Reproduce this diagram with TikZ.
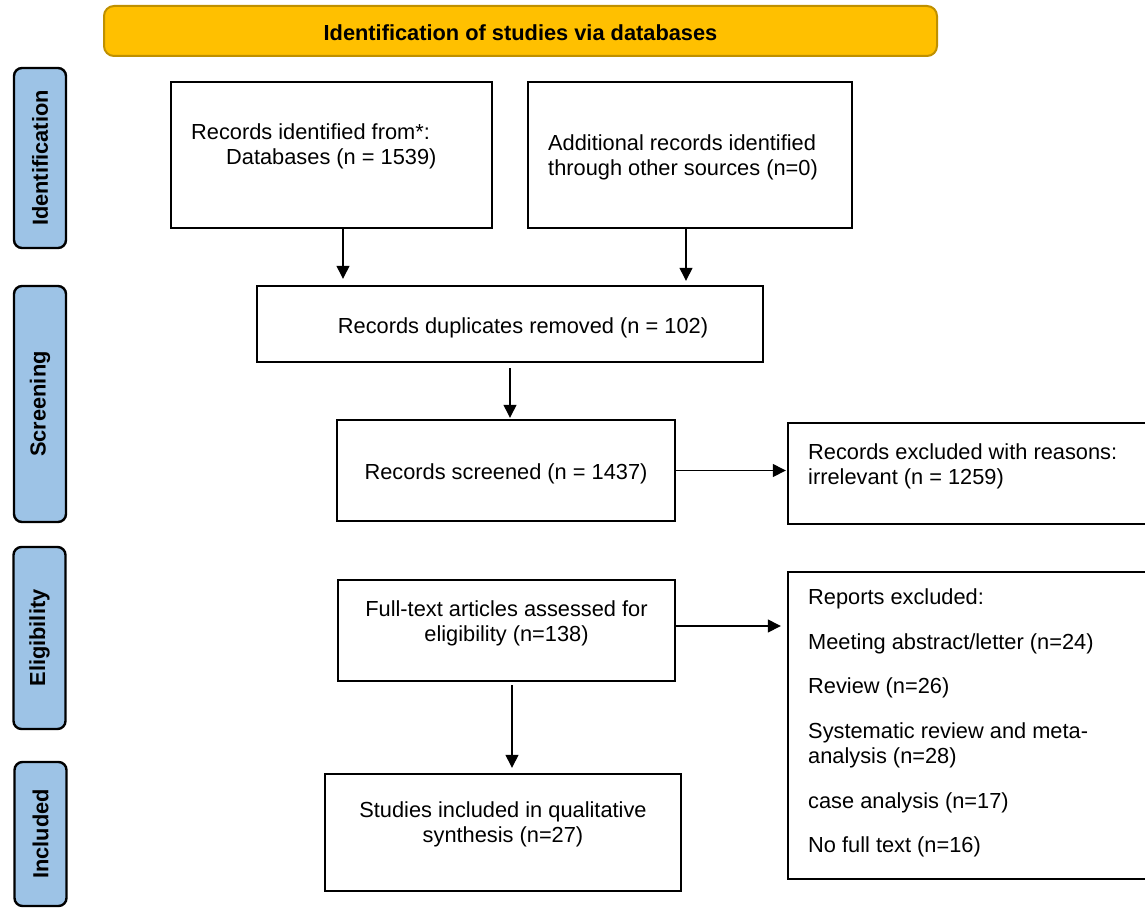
\documentclass[tikz,border=0pt]{standalone}
\usepackage{fontspec}
\setmainfont{Liberation Sans}
\usetikzlibrary{arrows.meta}
\definecolor{bannerfill}{HTML}{FFC000}
\definecolor{bannerdraw}{HTML}{BF9000}
\definecolor{stagefill}{HTML}{9DC3E6}
\begin{document}
\begin{tikzpicture}[x=1pt,y=-1pt,
  box/.style={draw=black, line width=2.4pt, inner sep=0pt, fill=white},
  stage/.style={draw=black, line width=2.4pt, fill=stagefill, rounded corners=8pt,
    rotate=90, inner sep=0pt, minimum height=52pt, font=\fontsize{21.8}{25}\selectfont\bfseries},
  banner/.style={draw=bannerdraw, line width=2pt, fill=bannerfill, rounded corners=10pt,
    inner sep=0pt, font=\fontsize{21.8}{25}\selectfont\bfseries},
  txt/.style={inner sep=0pt, font=\fontsize{21.8}{25}\selectfont},
  arr/.style={line width=1.3pt, -{Triangle[length=13pt,width=13pt]}}
]
\useasboundingbox (0,0) rectangle (1145,907);
\clip (0,0) rectangle (1145,907);

% banner
\node[banner, minimum width=833pt, minimum height=50pt, text height=19pt, text depth=0pt] (ban) at (520.5,31) {Identification of studies via databases};

% stage labels
\node[stage, minimum width=180pt] (s1) at (40,158) {Identification};
\node[stage, minimum width=236pt] (s2) at (40,404) {Screening};
\node[stage, minimum width=182pt] (s3) at (39.5,638) {Eligibility};
\node[stage, minimum width=144pt] (s4) at (40.5,834) {Included};

% boxes
\node[box, minimum width=321pt, minimum height=146pt] (id1) at (331.5,155) {};
\node[box, minimum width=324pt, minimum height=146pt] (id2) at (690,155) {};
\node[box, minimum width=506pt, minimum height=76pt] (dup) at (510,324) {};
\node[box, minimum width=338pt, minimum height=101pt] (scr) at (506,470.5) {};
\node[box, minimum width=372pt, minimum height=101pt] (exc1) at (974,473.5) {};
\node[box, minimum width=337pt, minimum height=101pt] (ful) at (506.5,630.5) {};
\node[box, minimum width=372pt, minimum height=307pt] (exc2) at (974,725.5) {};
\node[box, minimum width=356pt, minimum height=117pt] (inc) at (503,832.5) {};

% texts
\node[txt, anchor=west, align=left] (tid1) at (191,146)
  {Records identified from*:\\\hspace*{35pt}Databases (n = 1539)};
\node[txt, anchor=west, align=left] (tid2) at (548,157)
  {Additional records identified\\through other sources (n=0)};
\node[txt] (tdup) at (523,327.5) {Records duplicates removed (n = 102)};
\node[txt] (tscr) at (506,473.5) {Records screened (n = 1437)};
\node[txt, anchor=west, align=left] (texc1) at (808,466.5)
  {Records excluded with reasons:\\irrelevant (n = 1259)};
\node[txt, align=center] (tful) at (506.5,623.5)
  {Full-text articles assessed for\\eligibility (n=138)};
\node[txt, anchor=west, align=left] (texc2) at (808,723)
  {Reports excluded:\\[19.7pt]
   Meeting abstract/letter (n=24)\\[19.7pt]
   Review (n=26)\\[19.7pt]
   Systematic review and meta-\\analysis (n=28)\\[19.7pt]
   case analysis (n=17)\\[19.7pt]
   No full text (n=16)};
\node[txt, align=center] (tinc) at (503,824.5)
  {Studies included in qualitative\\synthesis (n=27)};

% arrows
\draw[arr, shorten >=6pt] ([xshift=11.5pt]id1.south) -- ([xshift=11.5pt]id1.south |- dup.north);
\draw[arr, shorten >=4pt] ([xshift=-4pt]id2.south) -- ([xshift=-4pt]id2.south |- dup.north);
\draw[arr, shorten <=5pt, shorten >=1pt] (dup.south) -- (dup.south |- scr.north);
\draw[arr, shorten >=1pt] (scr.east) -- (scr.east -| exc1.west);
\draw[arr, shorten >=6pt] ([yshift=4.5pt]ful.east) -- ([yshift=4.5pt]ful.east -| exc2.west);
\draw[arr, shorten <=3pt, shorten >=5pt] ([xshift=5.5pt]ful.south) -- ([xshift=5.5pt]ful.south |- inc.north);
\end{tikzpicture}
\end{document}
